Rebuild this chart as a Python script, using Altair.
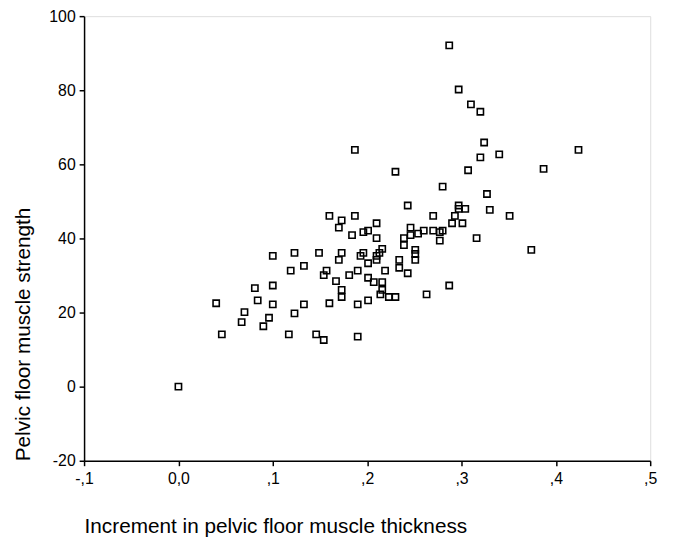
import altair as alt
import pandas as pd

thickness = [0.000, 0.040, 0.046, 0.070, 0.067, 0.081, 0.084, 0.090, 0.096, 0.100,
             0.100, 0.100, 0.117, 0.119, 0.123, 0.123, 0.133, 0.133, 0.146, 0.149,
             0.154, 0.154, 0.157, 0.160, 0.160, 0.167, 0.170, 0.170, 0.173, 0.173,
             0.173, 0.173, 0.181, 0.184, 0.187, 0.187, 0.190, 0.190, 0.190, 0.193,
             0.196, 0.196, 0.201, 0.201, 0.201, 0.201, 0.207, 0.210, 0.210, 0.210,
             0.210, 0.213, 0.214, 0.216, 0.216, 0.216, 0.219, 0.223, 0.230, 0.230,
             0.234, 0.234, 0.239, 0.239, 0.243, 0.243, 0.246, 0.246, 0.251, 0.251,
             0.251, 0.254, 0.260, 0.263, 0.270, 0.270, 0.277, 0.277, 0.280, 0.280,
             0.287, 0.287, 0.290, 0.293, 0.297, 0.297, 0.297, 0.301, 0.304, 0.307,
             0.310, 0.316, 0.320, 0.320, 0.324, 0.327, 0.330, 0.340, 0.351, 0.374,
             0.387, 0.424]
strength = [0.0, 22.5, 14.1, 20.1, 17.4, 26.6, 23.3, 16.3, 18.6, 35.3,
            27.3, 22.2, 14.1, 31.3, 36.1, 19.8, 32.6, 22.2, 14.1, 36.1,
            12.6, 30.1, 31.3, 46.1, 22.5, 28.5, 42.9, 34.2, 44.9, 36.1,
            26.1, 24.2, 30.1, 40.9, 63.9, 46.1, 31.3, 22.2, 13.5, 35.3,
            41.7, 36.1, 42.1, 33.3, 29.4, 23.3, 28.2, 44.1, 40.1, 34.2,
            35.3, 36.1, 24.9, 37.2, 28.2, 26.1, 31.3, 24.2, 24.2, 58.0,
            34.2, 32.1, 40.1, 38.2, 48.9, 30.6, 42.9, 40.9, 36.9, 35.8,
            34.2, 41.3, 42.1, 24.9, 46.1, 42.1, 41.7, 39.4, 54.0, 42.1,
            92.1, 27.3, 44.1, 46.1, 80.2, 48.9, 48.0, 44.1, 48.0, 58.4,
            76.2, 40.1, 74.2, 61.9, 65.9, 52.0, 47.7, 62.7, 46.1, 36.9,
            58.8, 63.9]

x_ticks = [-0.1, 0.0, 0.1, 0.2, 0.3, 0.4, 0.5]
y_ticks = [-20, 0, 20, 40, 60, 80, 100]

df = pd.DataFrame({"thickness": thickness, "strength": strength})

FONT = "Liberation Sans"

x_label_expr = (
    "datum.value == 0 ? '0,0' : "
    "(datum.value < 0 ? '-' : '') + replace(format(abs(datum.value), '.1f'), '0.', ',')"
)
y_label_expr = "(datum.value < 0 ? '-' : '') + format(abs(datum.value), 'd')"

chart = alt.Chart(df).mark_point(
    shape="square", filled=False, color="black", strokeWidth=1.6, size=40, opacity=1
).encode(
    x=alt.X("thickness:Q",
            scale=alt.Scale(domain=[-0.1, 0.5], nice=False, zero=False),
            axis=alt.Axis(values=x_ticks,
                          labelExpr=x_label_expr,
                          title="Increment in pelvic floor muscle thickness",
                          titleX=0, titleY=73, titleAlign="left", titleBaseline="alphabetic",
                          titleFontSize=21, titleFontWeight="normal", titleFont=FONT,
                          labelFont=FONT, labelFontSize=16, labelPadding=5,
                          tickSize=5, tickColor="black", tickWidth=1.5,
                          domainColor="black", domainWidth=1.5, grid=False,
                          labelColor="black", titleColor="black",
                          labelFlush=False, labelOverlap=False)),
    y=alt.Y("strength:Q",
            scale=alt.Scale(domain=[-20, 100], nice=False, zero=False),
            axis=alt.Axis(values=y_ticks,
                          labelExpr=y_label_expr,
                          title="Pelvic floor muscle strength",
                          titleX=-55, titleY=450, titleAlign="left", titleAngle=270,
                          titleBaseline="alphabetic",
                          titleFontSize=21, titleFontWeight="normal", titleFont=FONT,
                          labelFont=FONT, labelFontSize=16, labelPadding=4,
                          tickSize=5, tickColor="black", tickWidth=1.5,
                          domainColor="black", domainWidth=1.5, grid=False,
                          labelColor="black", titleColor="black",
                          labelFlush=False, labelOverlap=False)),
).properties(
    width=573, height=450,
    autosize=alt.AutoSizeParams(type="none"),
    padding={"left": 77, "top": 5, "right": 17, "bottom": 80},
).configure_view(
    stroke="black", strokeWidth=1.5
).configure(background="white")

chart.save("out.html", embed_options={"renderer": "svg", "actions": False})
